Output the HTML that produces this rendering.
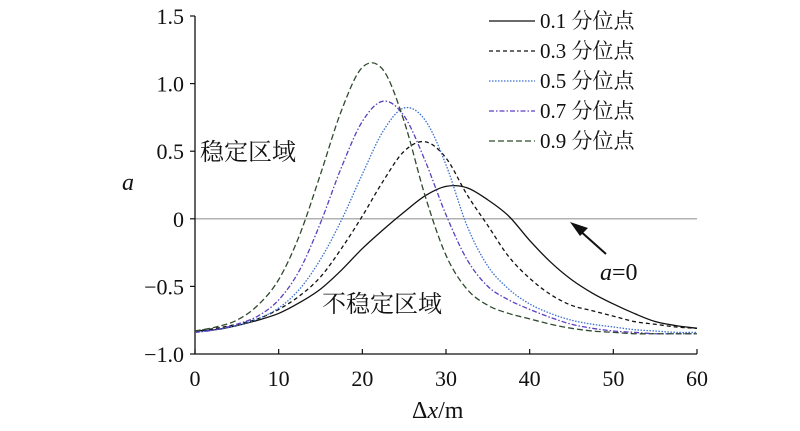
<!DOCTYPE html>
<html><head><meta charset="utf-8"><style>
body{margin:0;background:#fff}
svg text{font-family:"Liberation Serif","Noto Serif CJK SC",serif;fill:#111}
</style></head><body>
<svg width="800" height="426" xmlns="http://www.w3.org/2000/svg">
<g id="plot"></g>
<g font-size="21">
 <line x1="489" y1="21" x2="535" y2="21" stroke="#111" stroke-width="1.3"/>
 <text x="540" y="28">0.1 分位点</text>
 <line x1="489" y1="51" x2="535" y2="51" stroke="#111" stroke-width="1.2" stroke-dasharray="4,3"/>
 <text x="540" y="58">0.3 分位点</text>
 <line x1="489" y1="81" x2="535" y2="81" stroke="#3a6fd0" stroke-width="1.2" stroke-dasharray="1.5,1.5"/>
 <text x="540" y="88">0.5 分位点</text>
 <line x1="489" y1="111" x2="535" y2="111" stroke="#5a3fc0" stroke-width="1.2" stroke-dasharray="5,2,1.5,2"/>
 <text x="540" y="118">0.7 分位点</text>
 <line x1="489" y1="141" x2="535" y2="141" stroke="#2f4a2f" stroke-width="1.2" stroke-dasharray="6,3"/>
 <text x="540" y="148">0.9 分位点</text>
</g>
<text x="200" y="160" font-size="24">稳定区域</text>
<text x="322" y="312" font-size="24">不稳定区域</text>
<g>
 <line x1="606" y1="254" x2="578" y2="229" stroke="#111" stroke-width="2"/>
 <polygon points="570,222 588,228 580,236" fill="#111"/>
 <text x="600" y="280" font-size="24"><tspan font-style="italic">a</tspan>=0</text>
</g>
<text x="122" y="190" font-size="24" font-style="italic">a</text>
<text x="412" y="418" font-size="24">Δ<tspan font-style="italic">x</tspan>/m</text>
</svg>
<script>
const xs=[0,2.5,5,7.5,10,12.5,15,17.5,20,22.5,25,27.5,30,32.5,35,37.5,40,42.5,45,47.5,50,52.5,55,57.5,60];
const q01=[-0.83,-0.82,-0.79,-0.75,-0.70,-0.62,-0.52,-0.38,-0.22,-0.08,0.05,0.17,0.24,0.23,0.14,0.02,-0.16,-0.32,-0.45,-0.55,-0.63,-0.70,-0.76,-0.79,-0.81];
const q03=[-0.83,-0.81,-0.78,-0.74,-0.67,-0.57,-0.43,-0.22,0.02,0.28,0.50,0.57,0.45,0.18,-0.05,-0.28,-0.44,-0.56,-0.64,-0.68,-0.72,-0.76,-0.78,-0.80,-0.81];
const q05=[-0.84,-0.82,-0.79,-0.74,-0.66,-0.52,-0.30,-0.01,0.33,0.65,0.82,0.73,0.40,-0.05,-0.35,-0.52,-0.63,-0.70,-0.75,-0.78,-0.80,-0.82,-0.83,-0.84,-0.84];
const q07=[-0.84,-0.82,-0.78,-0.72,-0.60,-0.38,-0.03,0.38,0.72,0.87,0.76,0.43,0.03,-0.30,-0.50,-0.60,-0.67,-0.73,-0.78,-0.81,-0.83,-0.84,-0.85,-0.85,-0.85];
const q09=[-0.83,-0.80,-0.75,-0.64,-0.45,-0.12,0.33,0.80,1.12,1.10,0.72,0.17,-0.27,-0.52,-0.64,-0.70,-0.74,-0.78,-0.81,-0.83,-0.84,-0.85,-0.85,-0.85,-0.85];
const xTicks=[0,10,20,30,40,50,60];
const yTicks=[1.5,1.0,0.5,0,-0.5,-1.0];
const yLabels=["1.5","1.0","0.5","0","−0.5","−1.0"];
const X=v=>195+v*(697-195)/60;
const Y=v=>354-(v+1)*(354-16)/2.5;
const NS="http://www.w3.org/2000/svg";
const g=document.getElementById('plot');
function mk(t,a){const e=document.createElementNS(NS,t);for(const k in a)e.setAttribute(k,a[k]);g.appendChild(e);return e;}
let e=mk('line',{x1:X(0),y1:Y(0),x2:X(60),y2:Y(0),stroke:'#999','stroke-width':1.2});


e=mk('path',{d:`M${X(0)},${Y(1.5)}V${Y(-1)}H${X(60)}`,fill:'none',stroke:'#111','stroke-width':1.3});


xTicks.forEach(t=>{
 let l=mk('line',{x1:X(t),y1:Y(-1),x2:X(t),y2:Y(-1)-5,stroke:'#111','stroke-width':1.2});
 
 
 let tx=mk('text',{x:X(t),y:386,'font-size':22,'text-anchor':'middle'});tx.textContent=t;
 
 
});
yTicks.forEach((t,i)=>{
 let l=mk('line',{x1:X(0),y1:Y(t),x2:X(0)-5,y2:Y(t),stroke:'#111','stroke-width':1.2});
 
 
 let tx=mk('text',{x:184,y:Y(t)+8,'font-size':22,'text-anchor':'end'});tx.textContent=yLabels[i];
 
 
});
function path(vals){
 const p=xs.map((x,i)=>[X(x),Y(vals[i])]);
 let d=`M${p[0][0]},${p[0][1]}`;
 for(let i=0;i<p.length-1;i++){
  const p0=p[Math.max(0,i-1)],p1=p[i],p2=p[i+1],p3=p[Math.min(p.length-1,i+2)];
  d+=`C${p1[0]+(p2[0]-p0[0])/6},${p1[1]+(p2[1]-p0[1])/6} ${p2[0]-(p3[0]-p1[0])/6},${p2[1]-(p3[1]-p1[1])/6} ${p2[0]},${p2[1]}`;
 }
 return d;
}
const series=[[q01,'#111','none','series-q01'],[q03,'#111','4,3','series-q03'],[q05,'#3a6fd0','1.5,1.5','series-q05'],[q07,'#5a3fc0','5,2,1.5,2','series-q07'],[q09,'#2f4a2f','6,3','series-q09']];
series.forEach(s=>{
 const el=mk('path',{d:path(s[0]),fill:'none',stroke:s[1],'stroke-width':1.3,'stroke-dasharray':s[2]});
 
 
});
</script>
</body></html>
